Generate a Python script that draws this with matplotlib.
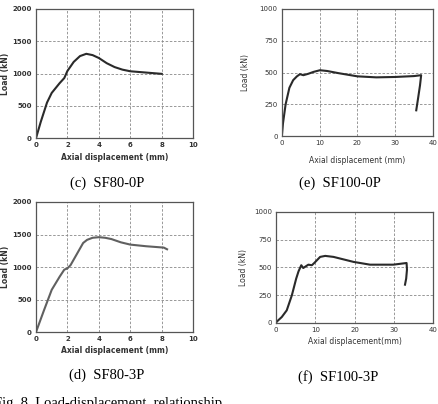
import matplotlib.pyplot as plt

# SF80-0P
c_disp = [0, 0.3, 0.7, 1.0, 1.5, 1.8, 2.0, 2.4, 2.8, 3.2, 3.6, 4.0, 4.5, 5.0, 5.5, 6.0, 7.0, 8.0]
c_load = [0, 250, 550, 700, 850, 930, 1040, 1180, 1270, 1305, 1285, 1240, 1160, 1100, 1060, 1035, 1015, 995]

# SF100-0P
e_disp = [0, 0.3, 1, 2, 3, 4, 4.8, 5.7, 7, 8.4, 10.1, 12, 15, 20, 25, 30, 35, 36.9, 36.6, 36.1, 35.6]
e_load = [0, 100, 250, 380, 440, 470, 487, 479, 490, 505, 518, 512, 495, 470, 462, 465, 472, 479, 400, 300, 203]

# SF80-3P
d_disp = [0, 0.5, 1.0, 1.5, 1.8, 2.0, 2.2, 2.6, 3.0, 3.25, 3.6, 4.0, 4.4, 4.8, 5.4, 6.0, 7.0, 8.13, 8.34]
d_load = [0, 330, 650, 850, 960, 980, 1030, 1200, 1370, 1418, 1450, 1459, 1450, 1430, 1380, 1345, 1320, 1299, 1273]

# SF100-3P
f_disp = [0, 0.1, 1.44, 2.7, 4.0, 5.1, 5.7, 6.4, 6.9, 8.2, 9.1, 9.7, 11.2, 12.5, 14.6, 19.7, 23.9, 29.8, 33.2, 33.3, 33.1, 32.8]
f_load = [0, 10, 54, 114, 249, 399, 465, 520, 495, 525, 520, 540, 595, 604, 595, 550, 525, 525, 540, 480, 400, 345]

fig = plt.figure(figsize=(4.39, 4.04), dpi=100)


def style(ax, xmax, xstep, ymax, ystep, label, bold, pad, ylx):
    ax.set_xlim(0, xmax)
    ax.set_ylim(0, ymax)
    ax.set_xticks(range(0, xmax + 1, xstep))
    ax.set_yticks(range(0, ymax + 1, ystep))
    w = 'bold' if bold else 'normal'
    ax.tick_params(length=0, pad=3, labelsize=5, colors='#333333')
    for t in ax.get_xticklabels() + ax.get_yticklabels():
        t.set_fontweight(w)
    ax.grid(True, linestyle=(0, (3, 2)), color='#888888', linewidth=0.6)
    for s in ax.spines.values():
        s.set_color('#555555')
        s.set_linewidth(0.9)
    ax.set_xlabel(label, fontsize=5.5, fontweight=w, labelpad=pad, color='#333333')
    ax.set_ylabel('Load (kN)', fontsize=5.5, fontweight=w, color='#333333')
    ax.yaxis.set_label_coords(ylx, 0.5)


ax_c = fig.add_axes([0.082, 0.658, 0.358, 0.32])
ax_c.plot(c_disp, c_load, color='#2a2a2a', linewidth=1.5)
style(ax_c, 10, 2, 2000, 500, 'Axial displacement (mm)', True, 3, -0.165)

ax_e = fig.add_axes([0.642, 0.663, 0.344, 0.315])
ax_e.plot(e_disp, e_load, color='#2a2a2a', linewidth=1.5)
style(ax_e, 40, 10, 1000, 250, 'Axial displacement (mm)', False, 7, -0.21)

ax_d = fig.add_axes([0.082, 0.178, 0.358, 0.322])
ax_d.plot(d_disp, d_load, color='#606060', linewidth=1.5)
style(ax_d, 10, 2, 2000, 500, 'Axial displacement (mm)', True, 3, -0.165)

ax_f = fig.add_axes([0.629, 0.2005, 0.358, 0.275])
ax_f.plot(f_disp, f_load, color='#2a2a2a', linewidth=1.5)
style(ax_f, 40, 10, 1000, 250, 'Axial displacement(mm)', False, 3, -0.178)

cap = dict(fontsize=10.5, family='Liberation Serif', ha='center', va='center')
fig.text(107 / 439, 1 - 183 / 404, '(c)  SF80-0P', **cap)
fig.text(340 / 439, 1 - 183 / 404, '(e)  SF100-0P', **cap)
fig.text(107 / 439, 1 - 375 / 404, '(d)  SF80-3P', **cap)
fig.text(338 / 439, 1 - 377 / 404, '(f)  SF100-3P', **cap)
fig.text(-6 / 439, 1 - 397 / 404, 'Fig. 8  Load-displacement  relationship',
         fontsize=10.5, family='Liberation Serif', ha='left', va='top')

fig.savefig('out.png', dpi=100)
